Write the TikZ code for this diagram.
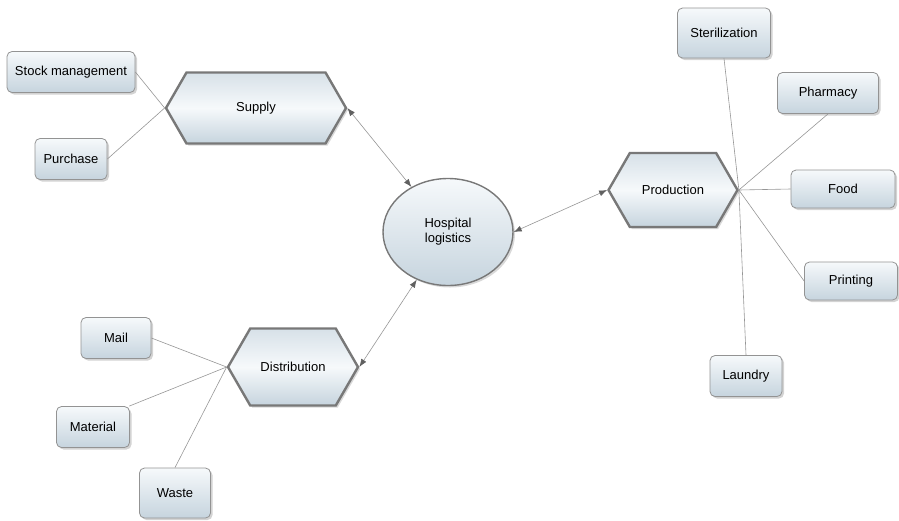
\documentclass[tikz,border=0pt]{standalone}
\usepackage{fontspec}
\setmainfont{Liberation Sans}
\usetikzlibrary{shapes.geometric,shapes.symbols,shadows,arrows.meta}
\definecolor{edgegray}{RGB}{120,120,120}
\definecolor{boxtop}{RGB}{246,249,251}
\definecolor{boxbot}{RGB}{198,212,222}
\definecolor{linkgray}{RGB}{150,150,150}
\tikzset{
  box/.style={draw=edgegray!80,line width=0.8pt,rounded corners=5pt,top color=boxtop,bottom color=boxbot,
    minimum height=41pt,inner sep=3pt,font=\fontsize{13}{15}\selectfont,drop shadow={shadow xshift=2pt,shadow yshift=-2pt,opacity=0.35}},
  hexa/.style={signal,signal to=west and east,signal pointer angle=120,draw=edgegray,line width=2.4pt,
    top color=boxbot!70,bottom color=boxbot,middle color=boxtop,font=\fontsize{13}{15}\selectfont,
    drop shadow={shadow xshift=2pt,shadow yshift=-2pt,opacity=0.3}},
  link/.style={linkgray,line width=0.6pt},
  twoway/.style={<->,linkgray,line width=0.6pt}
}
\begin{document}
\begin{tikzpicture}[x=1pt,y=-1pt,>={Latex[length=8pt,width=6pt,fill=edgegray!80!black,color=edgegray!80!black]}]
\useasboundingbox (0,0) rectangle (899,520);
% centre
\node[ellipse,draw=edgegray,line width=1.4pt,top color=boxtop,bottom color=boxbot,minimum width=130pt,minimum height=107pt,
  align=center,font=\fontsize{13}{15}\selectfont,drop shadow={shadow xshift=2pt,shadow yshift=-2pt,opacity=0.3}] (hosp) at (448,232) {Hospital\\logistics};
% branches
\node[hexa,minimum width=180pt,minimum height=71pt] (sup) at (256,108) {Supply};
\node[hexa,minimum width=130pt,minimum height=77pt] (dist) at (293,367) {Distribution};
\node[hexa,minimum width=129pt,minimum height=74pt] (prod) at (673,190) {Production};
% leaves
\node[box,minimum width=128pt] (stock) at (71,72) {Stock management};
\node[box,minimum width=72pt] (purch) at (71,159) {Purchase};
\node[box,minimum width=70pt] (mail) at (116,338) {Mail};
\node[box,minimum width=73pt] (mat) at (93,427) {Material};
\node[box,minimum width=71pt,minimum height=50pt] (waste) at (175,493) {Waste};
\node[box,minimum width=93pt,minimum height=50pt] (steril) at (724,33) {Sterilization};
\node[box,minimum width=101pt] (pharm) at (828,93) {Pharmacy};
\node[box,minimum width=104pt,minimum height=38pt] (food) at (843,189) {Food};
\node[box,minimum width=93pt,minimum height=38pt] (print) at (851,281) {Printing};
\node[box,minimum width=72pt] (laund) at (746,376) {Laundry};
% connectors
\draw[link] (sup.west) -- (stock.east);
\draw[link] (sup.west) -- (purch.east);
\draw[link] (dist.west) -- (mail.east);
\draw[link] (dist.west) -- (mat.30);
\draw[link] (dist.west) -- (waste.north);
\draw[link] (prod.east) -- (steril.south);
\draw[link] (prod.east) -- (pharm.south);
\draw[link] (prod.east) -- (food.west);
\draw[link] (prod.east) -- (print.west);
\draw[link] (prod.east) -- (laund.north);
\draw[twoway] (sup.east) -- (hosp);
\draw[twoway] (hosp.east) -- (prod.west);
\draw[twoway] (hosp) -- (dist.east);
\end{tikzpicture}
\end{document}
